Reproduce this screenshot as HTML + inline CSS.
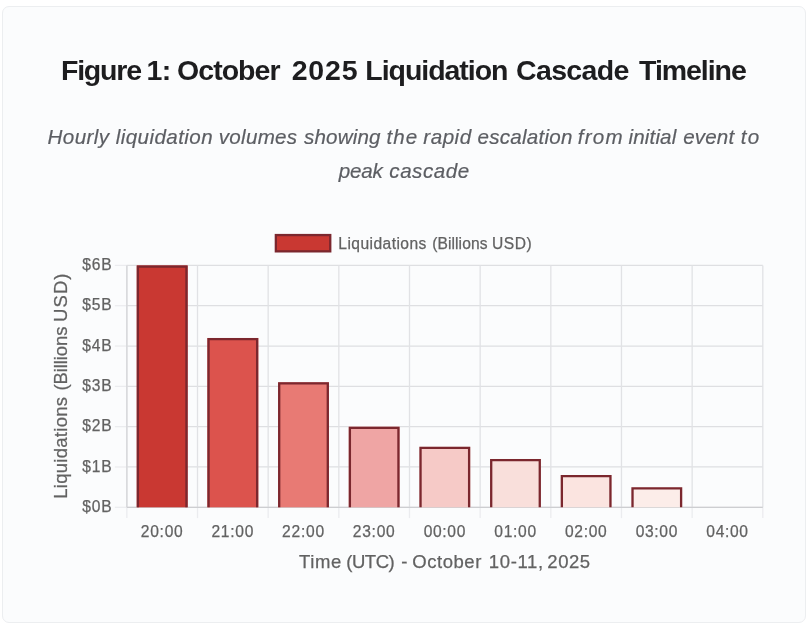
<!DOCTYPE html>
<html lang="en"><head><meta charset="utf-8"><title>Figure 1: October 2025 Liquidation Cascade Timeline</title>
<style>
html,body{margin:0;padding:0;background:#fff;}
body{width:810px;height:626px;position:relative;overflow:hidden;font-family:"Liberation Sans",Arial,Helvetica,sans-serif;}
.card{position:absolute;left:2px;top:6px;width:803.8px;height:616.6px;box-sizing:border-box;background:#fbfcfd;border:1.6px solid #eceef0;border-radius:7px;}
h1{position:absolute;left:-3px;top:44.9px;width:808px;height:36px;margin:0;font-size:28.5px;line-height:36px;font-weight:bold;color:#1d1d1f;white-space:nowrap;}
h1 span, p.sub span{position:absolute;white-space:nowrap;}
p.sub{position:absolute;left:-3px;top:112.9px;width:807.5px;height:68px;margin:0;font-size:20.6px;line-height:33.7px;font-style:italic;color:#5c5e63;-webkit-text-stroke:0.2px #5c5e63;white-space:nowrap;}
.chart{position:absolute;left:-3px;top:-7px;width:810px;height:626px;}
</style></head>
<body>
<div class="card">
<h1><span style="left:60.95px;top:0px;letter-spacing:-1.200px">Figure</span> <span style="left:146.55px;top:0px;letter-spacing:-0.750px">1:</span> <span style="left:177.05px;top:0px;letter-spacing:-0.967px">October</span> <span style="left:291.70px;top:0px;letter-spacing:0.833px">2025</span> <span style="left:365.30px;top:0px;letter-spacing:-1.035px">Liquidation</span> <span style="left:516.05px;top:0px;letter-spacing:-0.667px">Cascade</span> <span style="left:639.05px;top:0px;letter-spacing:-1.050px">Timeline</span></h1>
<p class="sub"><span style="left:47.55px;top:0px;letter-spacing:0.390px">Hourly</span> <span style="left:115.75px;top:0px;letter-spacing:0.420px">liquidation</span> <span style="left:218.75px;top:0px;letter-spacing:0.283px">volumes</span> <span style="left:304.00px;top:0px;letter-spacing:0.158px">showing</span> <span style="left:386.50px;top:0px;letter-spacing:1.075px">the</span> <span style="left:423.35px;top:0px;letter-spacing:0.500px">rapid</span> <span style="left:477.45px;top:0px;letter-spacing:0.256px">escalation</span> <span style="left:577.85px;top:0px;letter-spacing:1.167px">from</span> <span style="left:628.55px;top:0px;letter-spacing:0.133px">initial</span> <span style="left:683.25px;top:0px;letter-spacing:0.137px">event</span> <span style="left:740.80px;top:0px;letter-spacing:1.200px">to</span> <span style="left:338.80px;top:33.7px;letter-spacing:-0.183px">peak</span> <span style="left:389.35px;top:33.7px;letter-spacing:0.508px">cascade</span></p>
<div class="chart">
<svg width="810" height="626" viewBox="0 0 810 626" style="position:absolute;left:0;top:0" font-family="'Liberation Sans', Arial, Helvetica, sans-serif">
<line x1="114.85" y1="507.30" x2="126.85" y2="507.30" stroke="#ebecef" stroke-width="1.25"/>
<line x1="126.85" y1="507.30" x2="762.80" y2="507.30" stroke="#dedfe2" stroke-width="1.25"/>
<line x1="114.85" y1="466.98" x2="126.85" y2="466.98" stroke="#ebecef" stroke-width="1.25"/>
<line x1="126.85" y1="466.98" x2="762.80" y2="466.98" stroke="#dedfe2" stroke-width="1.25"/>
<line x1="114.85" y1="426.67" x2="126.85" y2="426.67" stroke="#ebecef" stroke-width="1.25"/>
<line x1="126.85" y1="426.67" x2="762.80" y2="426.67" stroke="#dedfe2" stroke-width="1.25"/>
<line x1="114.85" y1="386.35" x2="126.85" y2="386.35" stroke="#ebecef" stroke-width="1.25"/>
<line x1="126.85" y1="386.35" x2="762.80" y2="386.35" stroke="#dedfe2" stroke-width="1.25"/>
<line x1="114.85" y1="346.03" x2="126.85" y2="346.03" stroke="#ebecef" stroke-width="1.25"/>
<line x1="126.85" y1="346.03" x2="762.80" y2="346.03" stroke="#dedfe2" stroke-width="1.25"/>
<line x1="114.85" y1="305.72" x2="126.85" y2="305.72" stroke="#ebecef" stroke-width="1.25"/>
<line x1="126.85" y1="305.72" x2="762.80" y2="305.72" stroke="#dedfe2" stroke-width="1.25"/>
<line x1="114.85" y1="265.40" x2="126.85" y2="265.40" stroke="#ebecef" stroke-width="1.25"/>
<line x1="126.85" y1="265.40" x2="762.80" y2="265.40" stroke="#dedfe2" stroke-width="1.25"/>
<line x1="126.85" y1="265.40" x2="126.85" y2="507.30" stroke="#e1e2e5" stroke-width="1.3"/>
<line x1="126.85" y1="507.30" x2="126.85" y2="518.10" stroke="#ebecef" stroke-width="1.3"/>
<line x1="197.51" y1="265.40" x2="197.51" y2="507.30" stroke="#e1e2e5" stroke-width="1.3"/>
<line x1="197.51" y1="507.30" x2="197.51" y2="518.10" stroke="#ebecef" stroke-width="1.3"/>
<line x1="268.17" y1="265.40" x2="268.17" y2="507.30" stroke="#e1e2e5" stroke-width="1.3"/>
<line x1="268.17" y1="507.30" x2="268.17" y2="518.10" stroke="#ebecef" stroke-width="1.3"/>
<line x1="338.83" y1="265.40" x2="338.83" y2="507.30" stroke="#e1e2e5" stroke-width="1.3"/>
<line x1="338.83" y1="507.30" x2="338.83" y2="518.10" stroke="#ebecef" stroke-width="1.3"/>
<line x1="409.49" y1="265.40" x2="409.49" y2="507.30" stroke="#e1e2e5" stroke-width="1.3"/>
<line x1="409.49" y1="507.30" x2="409.49" y2="518.10" stroke="#ebecef" stroke-width="1.3"/>
<line x1="480.16" y1="265.40" x2="480.16" y2="507.30" stroke="#e1e2e5" stroke-width="1.3"/>
<line x1="480.16" y1="507.30" x2="480.16" y2="518.10" stroke="#ebecef" stroke-width="1.3"/>
<line x1="550.82" y1="265.40" x2="550.82" y2="507.30" stroke="#e1e2e5" stroke-width="1.3"/>
<line x1="550.82" y1="507.30" x2="550.82" y2="518.10" stroke="#ebecef" stroke-width="1.3"/>
<line x1="621.48" y1="265.40" x2="621.48" y2="507.30" stroke="#e1e2e5" stroke-width="1.3"/>
<line x1="621.48" y1="507.30" x2="621.48" y2="518.10" stroke="#ebecef" stroke-width="1.3"/>
<line x1="692.14" y1="265.40" x2="692.14" y2="507.30" stroke="#e1e2e5" stroke-width="1.3"/>
<line x1="692.14" y1="507.30" x2="692.14" y2="518.10" stroke="#ebecef" stroke-width="1.3"/>
<line x1="762.80" y1="265.40" x2="762.80" y2="507.30" stroke="#e1e2e5" stroke-width="1.3"/>
<line x1="762.80" y1="507.30" x2="762.80" y2="518.10" stroke="#ebecef" stroke-width="1.3"/>
<line x1="126.85" y1="265.40" x2="126.85" y2="507.30" stroke="#d6d7da" stroke-width="1.3"/>
<line x1="126.85" y1="507.30" x2="762.80" y2="507.30" stroke="#cdced1" stroke-width="1.3"/>
<rect x="136.74" y="265.40" width="50.88" height="241.90" fill="#c93832"/>
<path d="M137.89 507.30 V266.55 H186.47 V507.30" fill="none" stroke="#7b272e" stroke-width="2.3"/>
<rect x="207.40" y="337.97" width="50.88" height="169.33" fill="#dc534d"/>
<path d="M208.55 507.30 V339.12 H257.13 V507.30" fill="none" stroke="#7b272e" stroke-width="2.3"/>
<rect x="278.06" y="382.32" width="50.88" height="124.98" fill="#e87a74"/>
<path d="M279.21 507.30 V383.47 H327.79 V507.30" fill="none" stroke="#7b272e" stroke-width="2.3"/>
<rect x="348.73" y="426.67" width="50.88" height="80.63" fill="#efa5a4"/>
<path d="M349.88 507.30 V427.82 H398.45 V507.30" fill="none" stroke="#7b272e" stroke-width="2.3"/>
<rect x="419.39" y="446.82" width="50.88" height="60.48" fill="#f6cac7"/>
<path d="M420.54 507.30 V447.97 H469.11 V507.30" fill="none" stroke="#7b272e" stroke-width="2.3"/>
<rect x="490.05" y="458.92" width="50.88" height="48.38" fill="#f9dfdb"/>
<path d="M491.20 507.30 V460.07 H539.77 V507.30" fill="none" stroke="#7b272e" stroke-width="2.3"/>
<rect x="560.71" y="475.05" width="50.88" height="32.25" fill="#fbe4e0"/>
<path d="M561.86 507.30 V476.20 H610.44 V507.30" fill="none" stroke="#7b272e" stroke-width="2.3"/>
<rect x="631.37" y="487.14" width="50.88" height="20.16" fill="#fcede9"/>
<path d="M632.52 507.30 V488.29 H681.10 V507.30" fill="none" stroke="#7b272e" stroke-width="2.3"/>
<text x="82.15" y="511.90" font-size="15.6" letter-spacing="0.925" fill="#626262" stroke="#626262" stroke-width="0.25">$0B</text>
<text x="82.15" y="471.58" font-size="15.6" letter-spacing="0.925" fill="#626262" stroke="#626262" stroke-width="0.25">$1B</text>
<text x="82.15" y="431.27" font-size="15.6" letter-spacing="0.925" fill="#626262" stroke="#626262" stroke-width="0.25">$2B</text>
<text x="82.15" y="390.95" font-size="15.6" letter-spacing="0.925" fill="#626262" stroke="#626262" stroke-width="0.25">$3B</text>
<text x="82.15" y="350.63" font-size="15.6" letter-spacing="0.925" fill="#626262" stroke="#626262" stroke-width="0.25">$4B</text>
<text x="82.15" y="310.32" font-size="15.6" letter-spacing="0.925" fill="#626262" stroke="#626262" stroke-width="0.25">$5B</text>
<text x="82.15" y="270.00" font-size="15.6" letter-spacing="0.925" fill="#626262" stroke="#626262" stroke-width="0.25">$6B</text>
<text x="140.78" y="537.2" font-size="15.6" letter-spacing="0.737" fill="#626262" stroke="#626262" stroke-width="0.25">20:00</text>
<text x="211.44" y="537.2" font-size="15.6" letter-spacing="0.737" fill="#626262" stroke="#626262" stroke-width="0.25">21:00</text>
<text x="282.10" y="537.2" font-size="15.6" letter-spacing="0.738" fill="#626262" stroke="#626262" stroke-width="0.25">22:00</text>
<text x="352.76" y="537.2" font-size="15.6" letter-spacing="0.738" fill="#626262" stroke="#626262" stroke-width="0.25">23:00</text>
<text x="423.67" y="537.2" font-size="15.6" letter-spacing="0.675" fill="#626262" stroke="#626262" stroke-width="0.25">00:00</text>
<text x="494.34" y="537.2" font-size="15.6" letter-spacing="0.675" fill="#626262" stroke="#626262" stroke-width="0.25">01:00</text>
<text x="565.00" y="537.2" font-size="15.6" letter-spacing="0.675" fill="#626262" stroke="#626262" stroke-width="0.25">02:00</text>
<text x="635.66" y="537.2" font-size="15.6" letter-spacing="0.675" fill="#626262" stroke="#626262" stroke-width="0.25">03:00</text>
<text x="706.32" y="537.2" font-size="15.6" letter-spacing="0.675" fill="#626262" stroke="#626262" stroke-width="0.25">04:00</text>
<text font-size="18.5" fill="#626262" stroke="#626262" stroke-width="0.25"><tspan x="299.10" y="568.1" letter-spacing="0.567">Time</tspan> <tspan x="346.15" y="568.1" letter-spacing="-0.425">(UTC)</tspan> <tspan x="401.25" y="568.1" letter-spacing="0.000">-</tspan> <tspan x="412.30" y="568.1" letter-spacing="0.533">October</tspan> <tspan x="488.80" y="568.1" letter-spacing="0.640">10-11,</tspan> <tspan x="547.30" y="568.1" letter-spacing="0.567">2025</tspan></text>
<text transform="translate(67 497.3) rotate(-90)" font-size="18.5" fill="#626262" stroke="#626262" stroke-width="0.25"><tspan x="-1.50" y="0" letter-spacing="0.282">Liquidations</tspan> <tspan x="106.75" y="0" letter-spacing="-0.094">(Billions</tspan> <tspan x="175.30" y="0" letter-spacing="1.100">USD)</tspan></text>
<rect x="275.85" y="235.05" width="54.4" height="16.3" fill="#c93832" stroke="#7b272e" stroke-width="2.3"/>
<text font-size="15.6" fill="#626262" stroke="#626262" stroke-width="0.25"><tspan x="338.35" y="248.7" letter-spacing="0.436">Liquidations</tspan> <tspan x="432.20" y="248.7" letter-spacing="0.087">(Billions</tspan> <tspan x="492.05" y="248.7" letter-spacing="0.533">USD)</tspan></text>
</svg>
</div>
</div>
</body></html>
